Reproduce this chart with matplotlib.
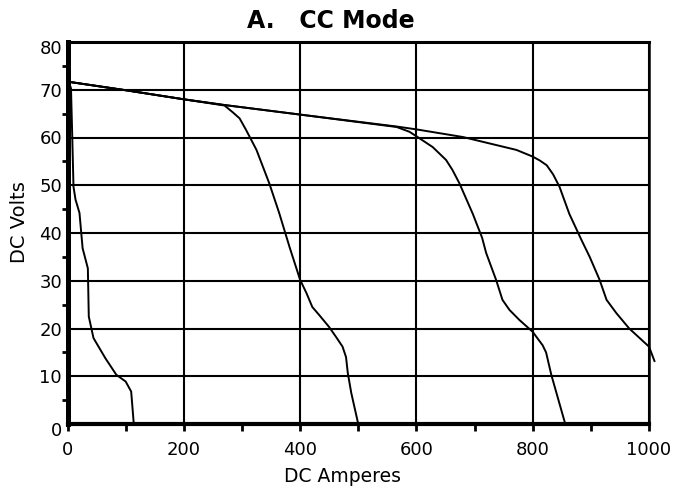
import matplotlib
matplotlib.use("Agg")
import matplotlib.pyplot as plt
from matplotlib.ticker import MultipleLocator
from matplotlib.transforms import ScaledTranslation

plt.rcParams['font.family'] = ['DejaVu Sans']

# Curve 1 (lowest current setting)
amps_1 = [0, 3, 6, 8, 10.3, 13.8, 20.6, 26, 35, 36.6, 44.7, 65, 84, 100, 109.5, 114]
volts_1 = [71.7, 71.4, 70.3, 61, 49.7, 47, 44.2, 36.8, 32.6, 22.5, 18, 13.8, 10.3, 8.9, 6.8, 0]

# Curve 2
amps_2 = [0, 100, 200, 270, 284, 296, 307, 325, 347, 364, 382, 400, 411, 421, 433,
          450, 462, 473, 479, 482, 488, 500]
volts_2 = [71.7, 69.9, 68, 66.7, 65.3, 64, 61.6, 57.4, 50.4, 44.2, 37, 30.2, 27.4, 24.5, 22.8,
           20.3, 18.2, 16.2, 14, 10.7, 6.5, 0]

# Curve 3
amps_3 = [0, 100, 200, 270, 400, 566, 588, 602, 628, 651, 662, 674, 697, 713, 720, 737,
          748, 760, 777, 800, 817, 823, 832, 856]
volts_3 = [71.7, 69.9, 68, 66.8, 64.8, 62.2, 61.2, 60.1, 58, 55.3, 53.2, 50.4, 44, 39, 35.8, 30.2,
           26, 23.9, 21.8, 19.3, 16.5, 15, 10.3, 0]

# Curve 4 (highest current setting)
amps_4 = [0, 100, 200, 270, 400, 566, 600, 680, 772, 800, 812, 824, 835, 846, 863, 884, 898,
          915, 927, 944, 966, 1000, 1010]
volts_4 = [71.7, 69.9, 68, 66.8, 64.8, 62.3, 61.7, 60.1, 57.4, 56, 55.2, 54.2, 52.3, 49.7, 44, 38.5, 35,
           30.2, 26, 23.2, 20, 16.2, 13]

x_ticks = [0, 200, 400, 600, 800, 1000]
y_ticks = [0, 10, 20, 30, 40, 50, 60, 70, 80]

W, H = 676, 491
fig = plt.figure(figsize=(W / 100, H / 100), dpi=100)
ax = fig.add_axes([67.5 / W, 1 - 424 / H, (649 - 67.5) / W, (424 - 42) / H])

for a, v in [(amps_1, volts_1), (amps_2, volts_2), (amps_3, volts_3), (amps_4, volts_4)]:
    ax.plot(a, v, color='black', lw=1.4, clip_on=False, zorder=3,
            solid_joinstyle='round', solid_capstyle='butt')

ax.set_xlim(0, 1000)
ax.set_ylim(0, 80)
ax.set_xticks(x_ticks)
ax.set_yticks(y_ticks)
ax.xaxis.set_minor_locator(MultipleLocator(100))
ax.yaxis.set_minor_locator(MultipleLocator(5))
ax.grid(True, which='major', color='black', lw=1.5)
ax.set_axisbelow(True)

ax.tick_params(axis='x', which='major', direction='out', length=5, width=2, pad=7, labelsize=13)
ax.tick_params(axis='x', which='minor', direction='out', length=5, width=2)
ax.tick_params(axis='y', which='major', direction='out', length=0, pad=4, labelsize=13)
ax.tick_params(axis='y', which='minor', direction='out', length=4, width=2)

# end labels on the y axis sit slightly lower in the reference
fig.canvas.draw()
for lab in ax.get_yticklabels():
    if lab.get_text() in ('0', '80'):
        lab.set_transform(lab.get_transform() + ScaledTranslation(0, -5.5 / 100, fig.dpi_scale_trans))

ax.spines['top'].set_linewidth(2.2)
ax.spines['right'].set_linewidth(1.8)
ax.spines['left'].set_linewidth(3.6)
ax.spines['bottom'].set_linewidth(3)

fig.text(342.5 / W, 1 - 482 / H, 'DC Amperes', fontsize=13.5, ha='center', va='baseline')
fig.text(29 / W, 1 - 222.5 / H, 'DC Volts', fontsize=14, rotation=90, ha='right', va='center')
fig.text(247 / W, 1 - 28 / H, 'A.   CC Mode', fontsize=17, fontweight='bold', ha='left', va='baseline')

fig.savefig('out.png', dpi=100)
